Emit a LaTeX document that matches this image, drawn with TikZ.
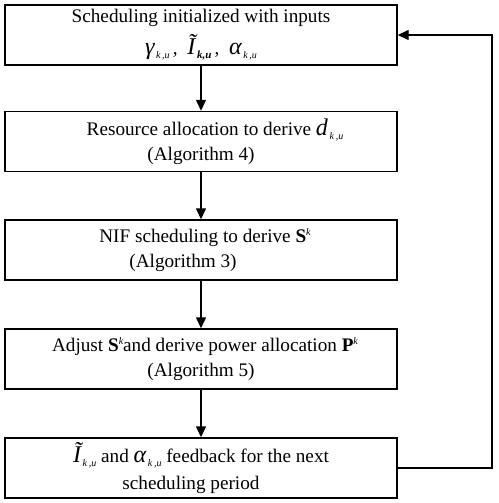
\documentclass[tikz,border=0pt]{standalone}
\usepackage{fontspec}
\setmainfont{Liberation Serif}
\usetikzlibrary{arrows.meta}
\newcommand{\kusub}{\raisebox{-4pt}{\fontsize{10}{10}\selectfont\itshape\,k\,,u}}
\newcommand{\mybig}[1]{{\fontsize{24}{24}\selectfont\itshape #1}}
\newcommand{\supk}{\raisebox{7pt}{\fontsize{10}{10}\selectfont\itshape k}}
\begin{document}
\begin{tikzpicture}[x=1pt,y=-1pt,
  box/.style={draw, line width=1.4pt, minimum width=392pt, minimum height=60pt,
    align=center, inner sep=0pt, font=\fontsize{19.2}{25}\selectfont},
  arr/.style={-{Triangle[length=11pt,width=10pt]}, line width=1.4pt}]
\useasboundingbox (0,0) rectangle (498,503);
\node[box] (b1) at (201,35) {\raisebox{0pt}{Scheduling initialized with inputs}\\[7pt]
  \mybig{γ}\kusub\,,\enspace\mybig{Ĩ}\raisebox{-4pt}{\fontsize{11}{11}\selectfont\bfseries\itshape\,k,u}\,,\enspace\mybig{α}\kusub};
\node[box] (b2) at (201,141.5) {\hspace*{28pt}Resource allocation to derive \mybig{d}\kusub\\(Algorithm 4)};
\node[box] (b3) at (201,250) {\hspace*{8pt}NIF scheduling to derive \textbf{S}\supk\\\hspace*{-36pt}(Algorithm 3)};
\node[box] (b4) at (201,359) {\hspace*{8pt}Adjust \textbf{S}\supk and derive power allocation \textbf{P}\supk\\(Algorithm 5)};
\node[box] (b5) at (201,468) {\mybig{Ĩ}\kusub\ and \mybig{α}\kusub\ feedback for the next\\[2pt]\hspace*{-20pt}scheduling period};
\coordinate (fb) at (492,0);
\draw[arr] (b1) -- (b2);
\draw[arr] (b2) -- (b3);
\draw[arr] (b3) -- (b4);
\draw[arr] (b4) -- (b5);
\draw[arr] (b5.east) -- (b5.east -| fb) -- (b1.east -| fb) -- (b1.east);
\end{tikzpicture}
\end{document}
